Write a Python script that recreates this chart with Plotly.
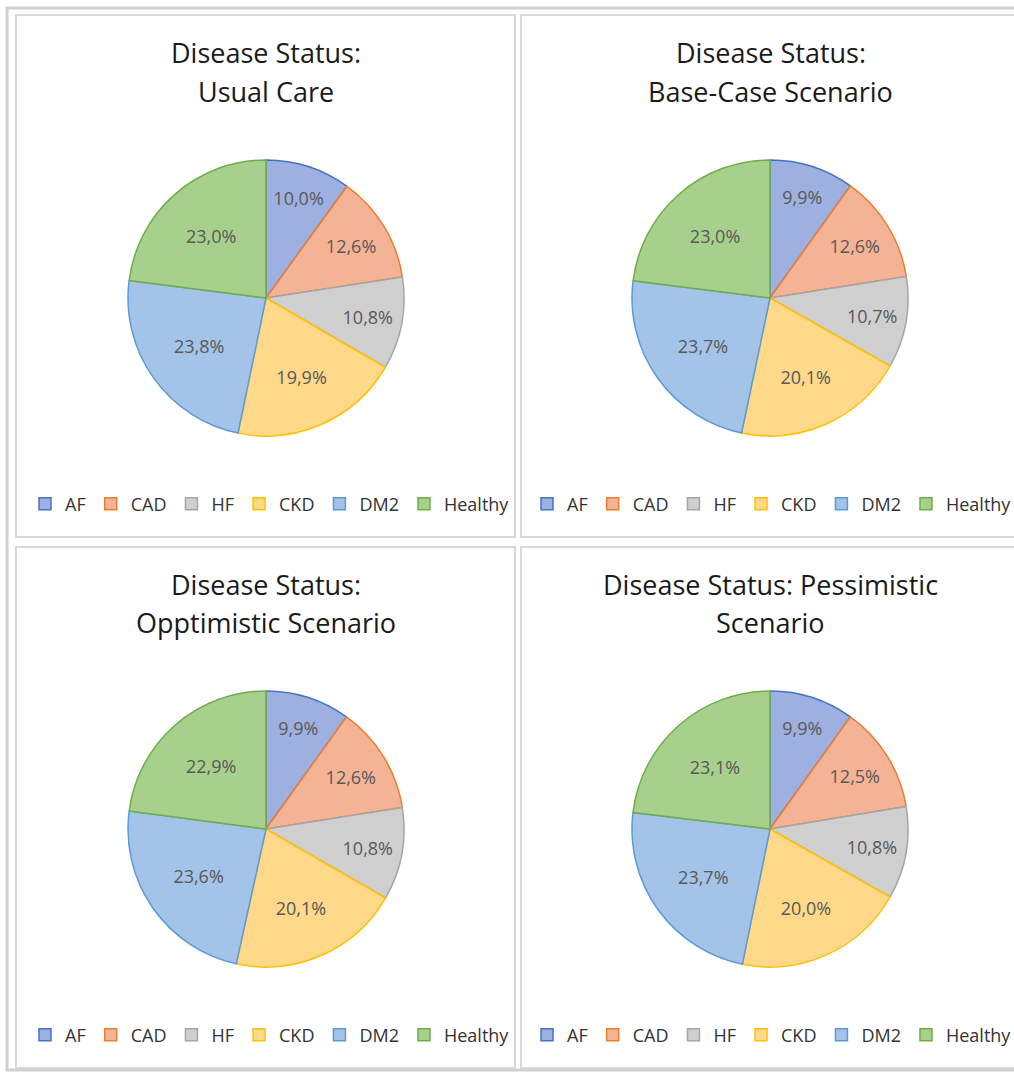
import plotly.graph_objects as go

W, H = 1014, 1073

categories = ["AF", "CAD", "HF", "CKD", "DM2", "Healthy"]

usual_care = [10.0, 12.6, 10.8, 19.9, 23.8, 23.0]
base_case = [9.9, 12.6, 10.7, 20.1, 23.7, 23.0]
optimistic = [9.9, 12.6, 10.8, 20.1, 23.6, 22.9]
pessimistic = [9.9, 12.5, 10.8, 20.0, 23.7, 23.1]

titles = [
    ("Disease Status:", "Usual Care"),
    ("Disease Status:", "Base-Case Scenario"),
    ("Disease Status:", "Opptimistic Scenario"),
    ("Disease Status: Pessimistic", "Scenario"),
]

fill_colors = ["#9DB0DF", "#F5B396", "#CFCFCF", "#FFD88A", "#A3C3E8", "#A8D08D"]
edge_colors = ["#4472C4", "#ED7D31", "#A5A5A5", "#FFC000", "#5B9BD5", "#70AD47"]

series = [usual_care, base_case, optimistic, pessimistic]

# panel boxes in pixels (x0, y0, x1, y1)
panels = [
    (16, 15, 515, 537),
    (521, 15, 1020, 537),
    (16, 547, 515, 1068),
    (521, 547, 1020, 1068),
]
pie_centers = [(266, 298), (770, 298), (266, 829), (770, 829)]
pie_r = 138
legend_centers = [(270, 504), (772, 504), (270, 1035), (772, 1035)]
title_rows = [(53, 91), (53, 91), (584, 622), (584, 622)]

FONT = "Open Sans, Noto Sans, sans-serif"


def px(x):
    return x / W


def py(y):
    return 1 - y / H


fig = go.Figure()
legend_names = ["legend", "legend2", "legend3", "legend4"]

for i, vals in enumerate(series):
    cx, cy = pie_centers[i]
    fig.add_trace(go.Pie(
        labels=categories,
        values=vals,
        sort=False,
        direction="clockwise",
        rotation=0,
        domain=dict(x=[px(cx - pie_r), px(cx + pie_r)],
                    y=[py(cy + pie_r), py(cy - pie_r)]),
        marker=dict(colors=fill_colors,
                    line=dict(color=edge_colors, width=1.5)),
        texttemplate="%{value:.1f}%",
        textposition="inside",
        insidetextorientation="horizontal",
        textfont=dict(family=FONT, size=18, color="#595959"),
        hoverinfo="label+value",
        showlegend=True,
        legend=legend_names[i],
        legendgroup="panel%d" % (i + 1),
    ))

shapes = [dict(type="rect", xref="paper", yref="paper",
               x0=px(7), x1=px(1030), y0=py(1070), y1=py(8),
               line=dict(color="#D0D0D0", width=3), fillcolor="rgba(0,0,0,0)",
               layer="below")]
for (x0, y0, x1, y1) in panels:
    shapes.append(dict(type="rect", xref="paper", yref="paper",
                       x0=px(x0), x1=px(x1), y0=py(y1), y1=py(y0),
                       line=dict(color="#D9D9D9", width=2),
                       fillcolor="white", layer="below"))

annotations = []
for i, (l1, l2) in enumerate(titles):
    x0, _, x1, _ = panels[i]
    xc = (x0 + x1) / 2
    for text, yy in zip((l1, l2), title_rows[i]):
        annotations.append(dict(
            text=text, xref="paper", yref="paper",
            x=px(xc), y=py(yy), xanchor="center", yanchor="middle",
            showarrow=False,
            font=dict(family=FONT, size=27, color="#1A1A1A"),
        ))

layout = dict(
    width=W, height=H,
    margin=dict(l=0, r=0, t=0, b=0, autoexpand=False),
    paper_bgcolor="white",
    plot_bgcolor="white",
    separators=",.",
    shapes=shapes,
    annotations=annotations,
)
for i, name in enumerate(legend_names):
    lx, ly = legend_centers[i]
    layout[name] = dict(
        orientation="h",
        x=px(lx), y=py(ly), xanchor="center", yanchor="middle",
        font=dict(family=FONT, size=18, color="#333333"),
        bgcolor="rgba(0,0,0,0)",
        itemwidth=30,
        traceorder="normal",
    )

fig.update_layout(**layout)
fig.write_html("out.html")
